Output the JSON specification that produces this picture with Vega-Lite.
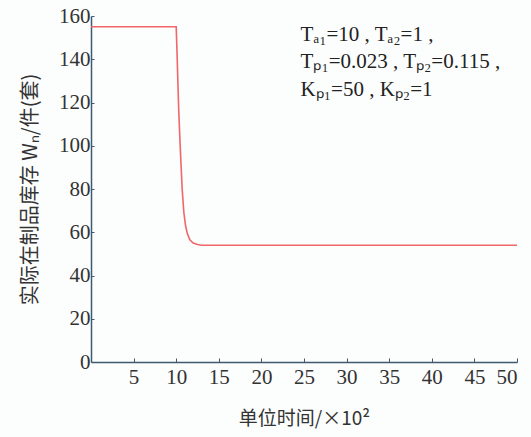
{
  "$schema": "https://vega.github.io/schema/vega-lite/v6.json",
  "width": 426,
  "height": 346,
  "autosize": {"type": "none"},
  "padding": {"left": 91, "top": 16, "right": 14, "bottom": 75},
  "background": "#fcfdfd",
  "config": {"view": {"stroke": null}, "font": "Liberation Serif"},
  "datasets": {
    "curve": [
      {"t": 0, "w": 155},
      {"t": 10.0, "w": 155},
      {"t": 10.1, "w": 143},
      {"t": 10.2, "w": 129},
      {"t": 10.3, "w": 116},
      {"t": 10.5, "w": 97},
      {"t": 10.7, "w": 80},
      {"t": 10.9, "w": 69},
      {"t": 11.1, "w": 63},
      {"t": 11.3, "w": 59.5},
      {"t": 11.6, "w": 56.5},
      {"t": 12.0, "w": 55},
      {"t": 12.5, "w": 54.3},
      {"t": 13.0, "w": 54},
      {"t": 50, "w": 54}
    ],
    "notes": [
      {"t": 24.6, "w": 151, "label": "Tₐ₁=10 , Tₐ₂=1 ,"},
      {"t": 24.6, "w": 138.5, "label": "Tₚ₁=0.023 , Tₚ₂=0.115 ,"},
      {"t": 24.6, "w": 126, "label": "Kₚ₁=50 , Kₚ₂=1"}
    ]
  },
  "layer": [
    {
      "data": {"name": "curve"},
      "mark": {"type": "line", "color": "#f0666a", "strokeWidth": 1.6},
      "encoding": {
        "x": {
          "field": "t", "type": "quantitative",
          "scale": {"domain": [0, 50], "nice": false},
          "axis": {
            "title": "单位时间/×10²",
            "titleFont": "Noto Sans CJK SC",
            "titleFontSize": 19,
            "titleFontWeight": "normal",
            "titleColor": "#333333",
            "titlePadding": 22,
            "values": [5, 10, 15, 20, 25, 30, 35, 40, 45, 50],
            "labelFont": "Liberation Serif",
            "labelFontSize": 21,
            "labelColor": "#333333",
            "labelPadding": 8,
            "tickSize": -4,
            "tickColor": "#3d5a70",
            "domainColor": "#3d5a70",
            "domainWidth": 1.5,
            "grid": false
          }
        },
        "y": {
          "field": "w", "type": "quantitative",
          "scale": {"domain": [0, 160], "nice": false},
          "axis": {
            "title": "实际在制品库存 Wₙ/件(套)",
            "titleFont": "Noto Sans CJK SC",
            "titleFontSize": 20,
            "titleFontWeight": "normal",
            "titleColor": "#333333",
            "titlePadding": 18,
            "values": [0, 20, 40, 60, 80, 100, 120, 140, 160],
            "labelFont": "Liberation Serif",
            "labelFontSize": 21,
            "labelColor": "#333333",
            "labelPadding": 4,
            "tickSize": -3,
            "tickColor": "#3d5a70",
            "domainColor": "#3d5a70",
            "domainWidth": 1.5,
            "grid": false
          }
        }
      }
    },
    {
      "data": {"name": "notes"},
      "mark": {"type": "text", "align": "left", "baseline": "middle", "fontSize": 21, "font": "Liberation Serif", "color": "#222222"},
      "encoding": {
        "x": {"field": "t", "type": "quantitative"},
        "y": {"field": "w", "type": "quantitative"},
        "text": {"field": "label"}
      }
    }
  ]
}
